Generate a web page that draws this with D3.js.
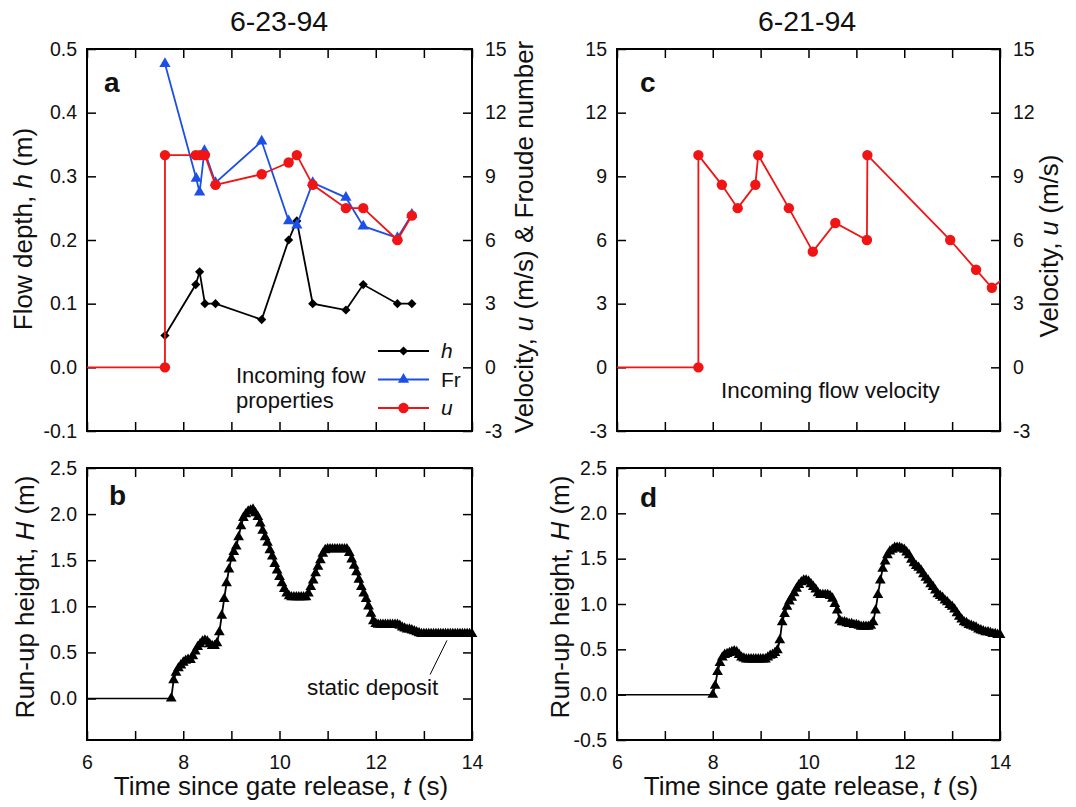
<!DOCTYPE html>
<html>
<head>
<meta charset="utf-8">
<script src="https://cdn.jsdelivr.net/npm/d3@7"></script>
<style>
  body { margin: 0; background: #fff; }
  svg { font-family: "Liberation Sans", Arial, sans-serif; }
  text { white-space: pre; }
</style>
</head>
<body>
<svg class="chart" width="1076" height="807"></svg>
<script>
// ---- data ----

// x ticks shared by all panels
const timeTicks = [6, 7, 8, 9, 10, 11, 12, 13, 14]

// 6-23-94, panel a: incoming flow
const uTimeA  = [6, 7.62, 7.62, 8.26, 8.35, 8.45, 8.67, 9.63, 10.19, 10.36, 10.69, 11.38, 11.74, 12.45, 12.75]
const uValA   = [0, 0, 10, 10, 10, 10, 8.6, 9.1, 9.65, 10, 8.6, 7.5, 7.5, 6.0, 7.15]
const frTimeA = [7.62, 8.27, 8.34, 8.44, 8.67, 9.63, 10.19, 10.36, 10.69, 11.38, 11.74, 12.45, 12.75]
const frValA  = [14.3, 8.9, 8.25, 10.2, 8.7, 10.65, 6.9, 6.7, 8.7, 8.0, 6.65, 6.1, 7.2]
const hTimeA  = [7.62, 8.26, 8.34, 8.45, 8.67, 9.63, 10.19, 10.36, 10.69, 11.38, 11.74, 12.45, 12.75]
const hValA   = [0.05, 0.13, 0.15, 0.10, 0.10, 0.075, 0.20, 0.23, 0.10, 0.09, 0.13, 0.10, 0.10]

// 6-21-94, panel c: incoming flow velocity
const uTimeC = [6, 7.7, 7.7, 8.19, 8.52, 8.89, 8.95, 9.59, 10.09, 10.56, 11.22, 11.23, 12.96, 13.50, 13.83, 14.3]
const uValC  = [0, 0, 10, 8.6, 7.5, 8.6, 10, 7.5, 5.45, 6.8, 6.0, 10, 6.0, 4.6, 3.75, 4.6]

// run-up height, sampled every 0.05 s from the first arrival
const runupStartB = 7.75, runupStartD = 8.0, runupStep = 0.05
const runupB = [
  0.00, 0.20, 0.28, 0.33, 0.36, 0.39, 0.41, 0.42, 0.42, 0.46,
  0.51, 0.56, 0.59, 0.62, 0.63, 0.62, 0.59, 0.57, 0.57, 0.60,
  0.72, 0.90, 1.08, 1.25, 1.40, 1.52, 1.59, 1.65, 1.75, 1.87,
  1.96, 2.00, 2.03, 2.04, 2.05, 2.01, 1.97, 1.90, 1.82, 1.75,
  1.69, 1.61, 1.54, 1.46, 1.39, 1.32, 1.25, 1.19, 1.14, 1.11,
  1.10, 1.10, 1.10, 1.10, 1.10, 1.10, 1.10, 1.14, 1.21, 1.28,
  1.36, 1.43, 1.50, 1.57, 1.61, 1.62, 1.62, 1.62, 1.62, 1.62,
  1.62, 1.62, 1.62, 1.62, 1.58, 1.51, 1.44, 1.37, 1.29, 1.21,
  1.14, 1.08, 1.00, 0.92, 0.84, 0.81, 0.80, 0.80, 0.80, 0.80,
  0.80, 0.80, 0.80, 0.80, 0.80, 0.79, 0.77, 0.76, 0.75, 0.75,
  0.74, 0.73, 0.72, 0.71, 0.70, 0.70, 0.70, 0.70, 0.70, 0.70,
  0.70, 0.70, 0.70, 0.70, 0.70, 0.70, 0.70, 0.70, 0.70, 0.70,
  0.70, 0.70, 0.70, 0.70, 0.70, 0.70
]
const runupD = [
  0.00, 0.10, 0.25, 0.35, 0.41, 0.44, 0.45, 0.46, 0.47, 0.48,
  0.47, 0.44, 0.41, 0.40, 0.39, 0.39, 0.39, 0.39, 0.39, 0.39,
  0.39, 0.39, 0.39, 0.41, 0.43, 0.44, 0.46, 0.49, 0.60, 0.80,
  0.89, 0.97, 1.03, 1.07, 1.12, 1.17, 1.21, 1.24, 1.26, 1.26,
  1.25, 1.22, 1.19, 1.16, 1.12, 1.10, 1.10, 1.10, 1.10, 1.09,
  1.06, 1.00, 0.93, 0.82, 0.80, 0.80, 0.79, 0.78, 0.78, 0.77,
  0.77, 0.76, 0.75, 0.75, 0.75, 0.75, 0.76, 0.80, 0.93, 1.10,
  1.26, 1.39, 1.47, 1.54, 1.58, 1.60, 1.62, 1.62, 1.62, 1.61,
  1.60, 1.57, 1.54, 1.49, 1.45, 1.42, 1.40, 1.37, 1.33, 1.29,
  1.26, 1.22, 1.19, 1.15, 1.11, 1.09, 1.07, 1.04, 1.02, 0.99,
  0.97, 0.94, 0.90, 0.86, 0.83, 0.80, 0.79, 0.77, 0.76, 0.75,
  0.74, 0.72, 0.71, 0.70, 0.69, 0.69, 0.68, 0.67, 0.67, 0.66,
  0.66
]

// tick labels
const depthTicks = [-0.1, 0, 0.1, 0.2, 0.3, 0.4, 0.5]
const velTicks   = [-3, 0, 3, 6, 9, 12, 15]
const runupTicksB = [0, 0.5, 1, 1.5, 2, 2.5]
const runupTicksD = [-0.5, 0, 0.5, 1, 1.5, 2, 2.5]

// ---- drawing ----
const red = "#f01414", blue = "#1c4fe6", ink = "#111"
const tick = 9

var svg = d3.select(".chart")
svg.append("rect").attr("width", 1076).attr("height", 807).attr("fill", "#fff")

function panel(left, top) {
  return svg.append("g").attr("transform", "translate(" + left + "," + top + ")")
}

function addText(parent, x, y, parts, size, anchor, rotate, weight) {
  var t = parent.append("text")
    .attr("transform", "translate(" + x + "," + y + ")" + (rotate ? " rotate(-90)" : ""))
    .attr("text-anchor", anchor || "start")
    .attr("font-size", size)
    .attr("font-weight", weight || null)
    .attr("fill", ink)
  parts.forEach(function(p) {
    t.append("tspan").attr("font-style", p[1] ? "italic" : null).text(p[0])
  })
  return t
}

function axes(g, x, yL, yR, o) {
  var w = x.range()[1], h = yL.range()[0]
  g.append("g").attr("transform", "translate(0," + h + ")")
    .call(d3.axisBottom(x).tickValues(timeTicks).tickSizeInner(-tick).tickSizeOuter(0).tickPadding(15)
      .tickFormat(function(d) { return o.xLabels && d % 2 === 0 ? d : "" }))
  g.append("g")
    .call(d3.axisTop(x).tickValues(timeTicks).tickSizeInner(-tick).tickSizeOuter(0).tickFormat(""))
  g.append("g")
    .call(d3.axisLeft(yL).tickValues(o.leftTicks).tickSizeInner(-tick).tickSizeOuter(0).tickPadding(10)
      .tickFormat(o.leftFormat))
  g.append("g").attr("transform", "translate(" + w + ",0)")
    .call(d3.axisRight(yR).tickValues(o.rightTicks).tickSizeInner(-tick).tickSizeOuter(0).tickPadding(13)
      .tickFormat(o.rightFormat))
  g.selectAll(".domain").remove()
  g.selectAll(".tick line").attr("stroke", "#000").attr("stroke-width", 1.5)
  g.selectAll(".tick text").attr("font-size", 19.5).attr("fill", ink)
    .attr("font-family", "'Liberation Sans', Arial, sans-serif")
  g.append("rect").attr("width", w).attr("height", h)
    .attr("fill", "none").attr("stroke", "#000").attr("stroke-width", 2)
}

function series(g, x, y, ts, vs, color, symbol, size, skipFirst, rot) {
  var pts = ts.map(function(t, i) { return [t, vs[i]] })
  g.append("path")
    .attr("d", d3.line().x(function(d) { return x(d[0]) }).y(function(d) { return y(d[1]) })(pts))
    .attr("fill", "none").attr("stroke", color).attr("stroke-width", 1.8)
  g.selectAll(null).data(skipFirst ? pts.slice(1) : pts).enter().append("path")
    .attr("d", d3.symbol(symbol, size))
    .attr("transform", function(d) { return "translate(" + x(d[0]) + "," + y(d[1]) + ")" + (rot ? " rotate(45)" : "") })
    .attr("fill", color)
}

var f1 = function(d) { return d.toFixed(1) },
    f0 = function(d) { return String(d) },
    none = function() { return "" }

// ---- panel a ----
var gA = panel(87, 49)
var xA = d3.scaleLinear().domain([6, 14]).range([0, 385])
var yAL = d3.scaleLinear().domain([-0.1, 0.5]).range([382, 0])
var yAR = d3.scaleLinear().domain([-3, 15]).range([382, 0])
axes(gA, xA, yAL, yAR, { leftTicks: depthTicks, leftFormat: f1, rightTicks: velTicks, rightFormat: f0 })
series(gA, xA, yAL, hTimeA, hValA, "#000", d3.symbolSquare, 42, false, true)
series(gA, xA, yAR, frTimeA, frValA, blue, d3.symbolTriangle, 55, false)
series(gA, xA, yAR, uTimeA, uValA, red, d3.symbolCircle, 85, true)

// legend
var legend = [["h", true, "#000", d3.symbolSquare, 42, true], ["Fr", false, blue, d3.symbolTriangle, 55, false], ["u", true, red, d3.symbolCircle, 85, false]]
legend.forEach(function(l, i) {
  var ly = 302 + i * 28.5
  gA.append("line").attr("x1", 291).attr("x2", 342).attr("y1", ly).attr("y2", ly)
    .attr("stroke", l[2]).attr("stroke-width", 1.8)
  gA.append("path").attr("d", d3.symbol(l[3], l[4]))
    .attr("transform", "translate(316.5," + ly + ")" + (l[5] ? " rotate(45)" : ""))
    .attr("fill", l[2])
  addText(gA, 354, ly + 7, [[l[0], l[1]]], 21)
})
addText(gA, 149, 334, [["Incoming fow"]], 22)
addText(gA, 149, 359, [["properties"]], 22)
addText(gA, 17, 43, [["a"]], 28, "start", false, "bold")

// ---- panel c ----
var gC = panel(617, 49)
var xC = d3.scaleLinear().domain([6, 14]).range([0, 383])
var yC = d3.scaleLinear().domain([-3, 15]).range([382, 0])
axes(gC, xC, yC, yC, { leftTicks: velTicks, leftFormat: f0, rightTicks: velTicks, rightFormat: f0 })
svg.append("clipPath").attr("id", "clipC").append("rect").attr("width", 383).attr("height", 382)
var gCdata = gC.append("g").attr("clip-path", "url(#clipC)")
series(gCdata, xC, yC, uTimeC, uValC, red, d3.symbolCircle, 85, true)
addText(gC, 104, 349, [["Incoming flow velocity"]], 22.5)
addText(gC, 23, 43, [["c"]], 28, "start", false, "bold")

// ---- panel b ----
var gB = panel(87, 468)
var xB = d3.scaleLinear().domain([6, 14]).range([0, 385])
var yB = d3.scaleLinear().domain([-0.45, 2.5]).range([272, 0])
axes(gB, xB, yB, yB, { xLabels: true, leftTicks: runupTicksB, leftFormat: f1, rightTicks: runupTicksB, rightFormat: none })
var tB = runupB.map(function(v, i) { return runupStartB + i * runupStep })
gB.append("path")
  .attr("d", d3.line()([[xB(6), yB(0)], [xB(runupStartB), yB(0)]]))
  .attr("stroke", "#000").attr("stroke-width", 1.5)
series(gB, xB, yB, tB, runupB, "#000", d3.symbolTriangle, 50, false)
gB.append("line")
  .attr("x1", xB(13.13)).attr("y1", yB(0.26)).attr("x2", xB(13.48)).attr("y2", yB(0.63))
  .attr("stroke", "#000").attr("stroke-width", 1)
addText(gB, xB(10.57), yB(0.04), [["static deposit"]], 22.5)
addText(gB, 22, 37, [["b"]], 28, "start", false, "bold")

// ---- panel d ----
var gD = panel(617, 468)
var xD = d3.scaleLinear().domain([6, 14]).range([0, 383])
var yD = d3.scaleLinear().domain([-0.5, 2.5]).range([272, 0])
axes(gD, xD, yD, yD, { xLabels: true, leftTicks: runupTicksD, leftFormat: f1, rightTicks: runupTicksD, rightFormat: none })
var tD = runupD.map(function(v, i) { return runupStartD + i * runupStep })
gD.append("path")
  .attr("d", d3.line()([[xD(6), yD(0)], [xD(runupStartD), yD(0)]]))
  .attr("stroke", "#000").attr("stroke-width", 1.5)
series(gD, xD, yD, tD, runupD, "#000", d3.symbolTriangle, 50, false)
addText(gD, 23, 39, [["d"]], 28, "start", false, "bold")

// ---- titles ----
addText(svg, 279, 31, [["6-23-94"]], 28.5, "middle")
addText(svg, 807, 31, [["6-21-94"]], 28.5, "middle")
addText(svg, 32, 229, [["Flow depth, "], ["h", true], [" (m)"]], 26, "middle", true)
addText(svg, 533, 237, [["Velocity, "], ["u", true], [" (m/s) & Froude number"]], 26, "middle", true)
addText(svg, 1058, 246, [["Velocity, "], ["u", true], [" (m/s)"]], 26, "middle", true)
addText(svg, 34, 597, [["Run-up height, "], ["H", true], [" (m)"]], 26, "middle", true)
addText(svg, 569, 597, [["Run-up height, "], ["H", true], [" (m)"]], 26, "middle", true)
addText(svg, 281, 795, [["Time since gate release, "], ["t", true], [" (s)"]], 26, "middle")
addText(svg, 811, 795, [["Time since gate release, "], ["t", true], [" (s)"]], 26, "middle")
</script>
</body>
</html>
